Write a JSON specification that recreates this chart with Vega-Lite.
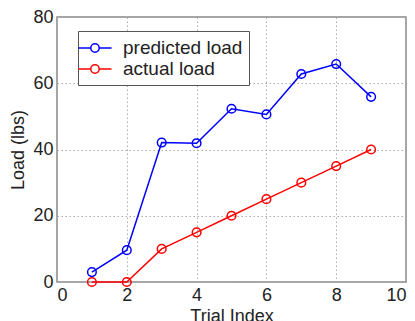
{
  "$schema": "https://vega.github.io/schema/vega-lite/v6.json",
  "width": 349,
  "height": 265,
  "autosize": {"type": "none"},
  "padding": {"left": 57, "top": 17, "right": 9, "bottom": 39},
  "background": "white",
  "config": {
    "font": "Liberation Sans",
    "view": {"stroke": "#888888", "strokeWidth": 1.5},
    "axis": {
      "labelFont": "Liberation Sans",
      "titleFont": "Liberation Sans",
      "labelColor": "#222222",
      "titleColor": "#222222",
      "labelFontSize": 18,
      "titleFontSize": 18,
      "titleFontWeight": "normal",
      "grid": true,
      "gridColor": "#aaaaaa",
      "gridDash": [1.5, 2.5],
      "gridWidth": 1,
      "domain": false,
      "ticks": false
    }
  },
  "data": {
    "values": [
      {"trial": 1, "load": 3, "series": "predicted load"},
      {"trial": 2, "load": 9.6, "series": "predicted load"},
      {"trial": 3, "load": 42.1, "series": "predicted load"},
      {"trial": 4, "load": 41.9, "series": "predicted load"},
      {"trial": 5, "load": 52.3, "series": "predicted load"},
      {"trial": 6, "load": 50.6, "series": "predicted load"},
      {"trial": 7, "load": 62.8, "series": "predicted load"},
      {"trial": 8, "load": 65.8, "series": "predicted load"},
      {"trial": 9, "load": 55.9, "series": "predicted load"},
      {"trial": 1, "load": 0, "series": "actual load"},
      {"trial": 2, "load": 0, "series": "actual load"},
      {"trial": 3, "load": 10, "series": "actual load"},
      {"trial": 4, "load": 15, "series": "actual load"},
      {"trial": 5, "load": 20, "series": "actual load"},
      {"trial": 6, "load": 25, "series": "actual load"},
      {"trial": 7, "load": 30, "series": "actual load"},
      {"trial": 8, "load": 35, "series": "actual load"},
      {"trial": 9, "load": 40, "series": "actual load"}
    ]
  },
  "mark": {
    "type": "line",
    "strokeWidth": 1.5,
    "point": {"filled": false, "size": 75, "strokeWidth": 1.5}
  },
  "encoding": {
    "x": {
      "field": "trial",
      "type": "quantitative",
      "scale": {"domain": [0, 10], "nice": false},
      "axis": {"values": [0, 2, 4, 6, 8, 10], "title": "Trial Index", "labelPadding": 4, "titlePadding": 3}
    },
    "y": {
      "field": "load",
      "type": "quantitative",
      "scale": {"domain": [0, 80], "nice": false},
      "axis": {"values": [0, 20, 40, 60, 80], "title": "Load (lbs)", "labelPadding": 4, "titlePadding": 5}
    },
    "color": {
      "field": "series",
      "type": "nominal",
      "sort": ["predicted load", "actual load"],
      "scale": {"domain": ["predicted load", "actual load"], "range": ["#0000ff", "#ff0000"]},
      "legend": {
        "title": null,
        "orient": "none",
        "legendX": 21,
        "legendY": 14,
        "strokeColor": "#555555",
        "fillColor": "white",
        "padding": 6,
        "symbolType": "M-1.65,0L-0.42,0M0.42,0L1.65,0M-0.42,0A0.42,0.42 0 1,1 0.42,0A0.42,0.42 0 1,1 -0.42,0",
        "symbolSize": 400,
        "symbolStrokeWidth": 1.5,
        "symbolFillColor": "transparent",
        "labelFontSize": 19,
        "labelColor": "#222222",
        "labelFont": "Liberation Sans",
        "rowPadding": -6,
        "labelOffset": 17
      }
    }
  }
}
